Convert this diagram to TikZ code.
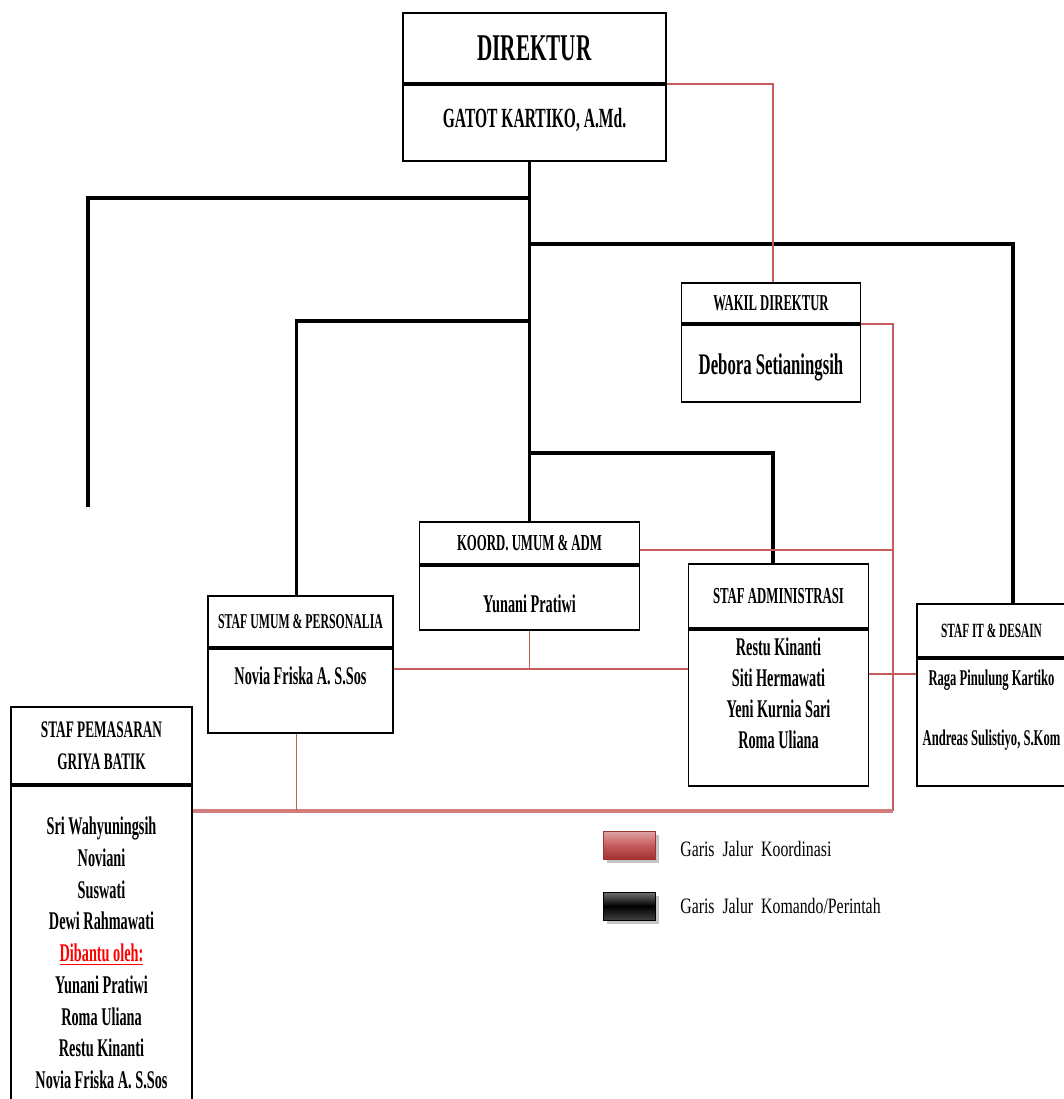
\documentclass[tikz,border=0pt]{standalone}
\usepackage{fontspec}
\setmainfont[FakeStretch=0.56]{Liberation Serif}
\newfontfamily\legendfont[FakeStretch=0.72,WordSpace=2]{Liberation Serif}
\usetikzlibrary{calc,shadows}
\definecolor{merah}{RGB}{198,92,92}
\definecolor{merahtua}{RGB}{160,50,50}
\newcommand{\ukuran}[2]{\bfseries\fontsize{#1}{#2}\selectfont}
\tikzset{
  judul/.style={draw, fill=white, line width=1.1pt, anchor=north, inner sep=0pt,
    align=center, font=\ukuran{13}{18.2}},
  isi/.style={draw, fill=white, line width=1.1pt, anchor=north, inner sep=0pt},
  nama/.style={inner sep=0pt, align=center, font=\ukuran{14.5}{17.6}},
  komando/.style={line width=2.2pt},
  koordinasi/.style={draw=merah, line width=1.1pt},
  kunci/.style={minimum width=10.4mm, minimum height=5.6mm, inner sep=0pt,
    drop shadow={shadow xshift=0.7mm, shadow yshift=-0.7mm, fill=black!45}},
  keterangan/.style={anchor=west, inner sep=0pt, font=\legendfont\fontsize{12.5}{14}\selectfont}
}

\begin{document}
\begin{tikzpicture}[x=0.2mm,y=-0.2mm]
  \clip (0,0) rectangle (1064,1099);
  \fill[white] (0,0) rectangle (1064,1099);
  % kotak-kotak jabatan
  \node[judul, minimum width=52.6mm, minimum height=14mm, font=\ukuran{21.5}{24}]
       (dirTitle) at (534.5,12) {DIREKTUR};
  \node[isi, minimum width=52.6mm, minimum height=15.2mm] (dirBody) at (dirTitle.south) {};
  \node[judul, minimum width=35.8mm, minimum height=8mm, font=\ukuran{12.9}{15}]
       (wakilTitle) at (771,282) {WAKIL DIREKTUR};
  \node[isi, minimum width=35.8mm, minimum height=15.4mm] (wakilBody) at (wakilTitle.south) {};
  \node[judul, minimum width=44mm, minimum height=8.4mm]
       (koordTitle) at (529.5,521) {KOORD. UMUM \& ADM};
  \node[isi, minimum width=44mm, minimum height=12.8mm] (koordBody) at (koordTitle.south) {};
  \node[judul, minimum width=36mm, minimum height=12.8mm]
       (adminTitle) at (778.5,563) {STAF ADMINISTRASI};
  \node[isi, minimum width=36mm, minimum height=31.2mm] (adminBody) at (adminTitle.south) {};
  \node[judul, minimum width=29.8mm, minimum height=10.6mm, font=\ukuran{11.5}{14}]
       (itTitle) at (991.5,603) {STAF IT \& DESAIN};
  \node[isi, minimum width=29.8mm, minimum height=25.4mm] (itBody) at (itTitle.south) {};
  \node[judul, minimum width=37mm, minimum height=10.2mm, font=\ukuran{12}{14}]
       (umumTitle) at (300.5,595) {STAF UMUM \& PERSONALIA};
  \node[isi, minimum width=37mm, minimum height=16.8mm] (umumBody) at (umumTitle.south) {};
  \node[judul, minimum width=36.2mm, minimum height=15.4mm, font=\ukuran{13.5}{18.2}]
       (pemTitle) at (101.5,706) {STAF PEMASARAN\\GRIYA BATIK};
  \node[isi, minimum width=36.2mm, minimum height=68mm] (pemBody) at (pemTitle.south) {};

  % nama-nama
  \node[nama, font=\ukuran{15.8}{18}] (dirNama) at (534.5,120) {GATOT KARTIKO, A.Md.};
  \node[nama, font=\ukuran{17}{20}] (wakilNama) at (771,367) {Debora Setianingsih};
  \node[nama] (koordNama) at (529.5,604) {Yunani Pratiwi};
  \node[nama] (adminNama) at (778.5,693.5) {Restu Kinanti\\Siti Hermawati\\Yeni Kurnia Sari\\Roma Uliana};
  \node[nama, font=\ukuran{12.8}{17}] (itNama) at (991.5,710)
       {Raga Pinulung Kartiko\\[17pt]Andreas Sulistiyo, S.Kom};
  \node[nama] (umumNama) at (300.5,676) {Novia Friska A. S.Sos};
  \node[nama, font=\ukuran{14.5}{18.07}] (pemNama) at (101.5,953)
       {Sri Wahyuningsih\\Noviani\\Suswati\\Dewi Rahmawati\\
        \textcolor{red}{\underline{Dibantu oleh:}}\\Yunani Pratiwi\\Roma Uliana\\
        Restu Kinanti\\Novia Friska A. S.Sos};

  % garis komando
  \coordinate (cabangKiri) at (529,198);
  \coordinate (ujungKiri) at (88,507);
  \coordinate (cabangKanan) at (529,244);
  \coordinate (cabangUmum) at (529,321);
  \coordinate (cabangAdmin) at (529,453);
  \draw[komando] (dirBody.south -| koordTitle.north) -- (koordTitle.north); % batang utama
  \draw[komando] (cabangKiri) -| (ujungKiri);
  \draw[komando] (cabangKanan) -| ($(itTitle.north)+(21.5,0)$);
  \draw[komando] (cabangUmum) -| ($(umumTitle.north)+(-4,0)$);
  \draw[komando] (cabangAdmin) -| ($(adminTitle.north)+(-5.5,0)$);

  % garis koordinasi
  \coordinate (jalurKanan) at (893,811);
  \coordinate (jalurTengah) at (529.5,669);
  \draw[koordinasi] (dirTitle.south east) -| ($(wakilTitle.north)+(2,0)$);
  \draw[koordinasi] (wakilTitle.south east) -| (jalurKanan);
  \draw[koordinasi, line width=1.8pt, draw=merah!80] (jalurKanan) -- (jalurKanan -| pemBody.east);
  \draw[koordinasi] ($(koordTitle.east)+(0,7)$) coordinate (k1) -- (k1 -| jalurKanan);
  \draw[koordinasi] (umumBody.east |- jalurTengah) -- (adminBody.west |- jalurTengah);
  \draw[koordinasi] (koordBody.south) -- (jalurTengah);
  \draw[koordinasi] (adminBody.east |- 0,674) -- (itBody.west |- 0,674);
  \draw[koordinasi] ($(umumBody.south)+(-4,0)$) -- ($(umumBody.south |- jalurKanan)+(-4,0)$);

  % keterangan
  \node[kunci, draw=merahtua, top color=merah!55!white, bottom color=merahtua,
        middle color=merah] (kunciMerah) at (629,845) {};
  \node[kunci, draw=black, top color=black!55, bottom color=black!75,
        middle color=black] (kunciHitam) at (629,906) {};
  \node[keterangan] (teksMerah) at (680,849) {Garis Jalur Koordinasi};
  \node[keterangan] (teksHitam) at (680,906) {Garis Jalur Komando/Perintah};
\end{tikzpicture}
\end{document}
